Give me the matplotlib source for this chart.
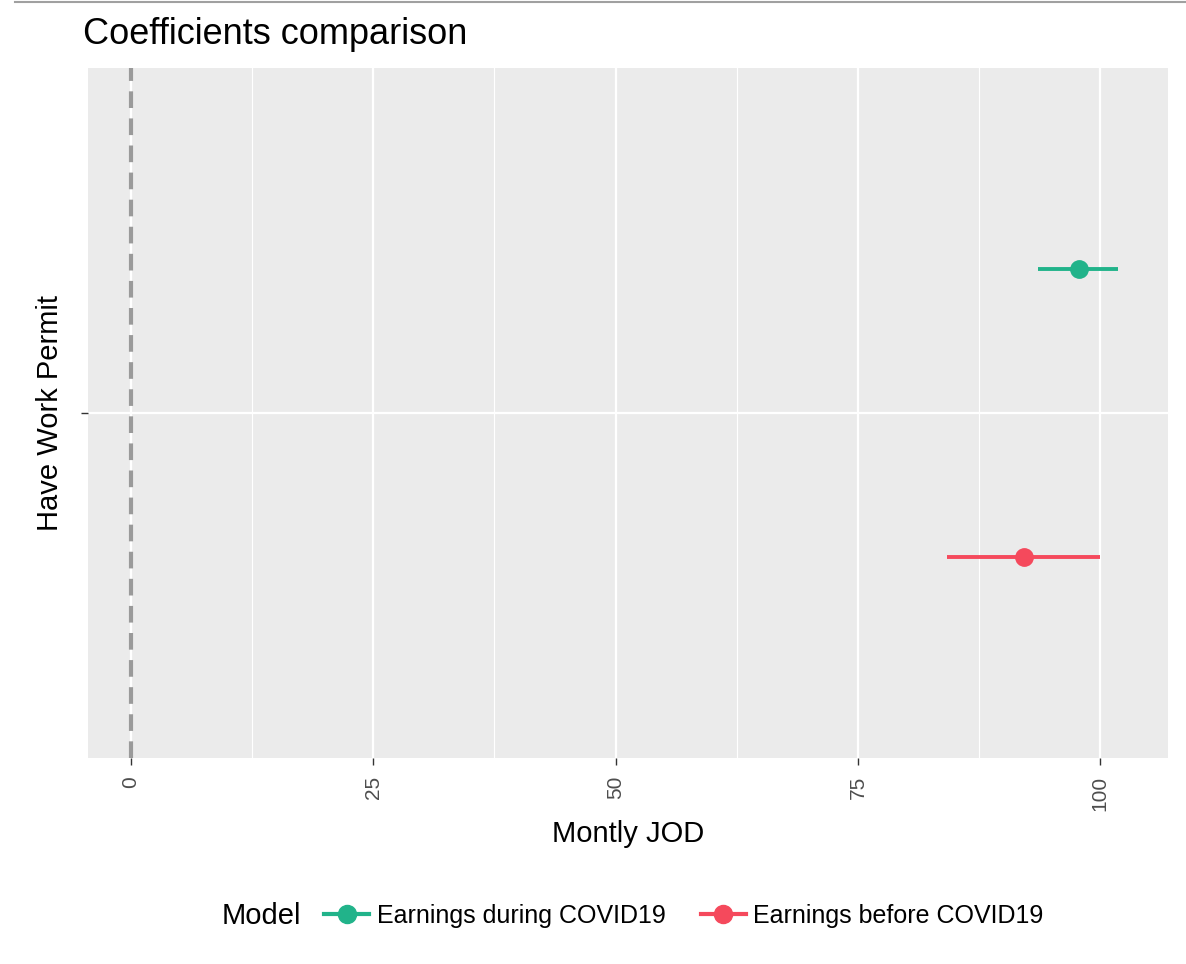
import matplotlib.pyplot as plt
from matplotlib.lines import Line2D

plt.rcParams['font.family'] = ['Liberation Sans', 'DejaVu Sans']

# coefficient estimates
models = ["Earnings during COVID19", "Earnings before COVID19"]
estimates = [97.8, 92.1]
lower = [93.6, 84.2]
upper = [101.8, 100.0]
colors = ["#21B38A", "#F5495C"]
term = "Have Work Permit"
x_ticks = [0, 25, 50, 75, 100]
dodge = [0.25, -0.25]

fig = plt.figure(figsize=(11.86, 9.64), dpi=100)
W, H = 1186, 964
ax = fig.add_axes([88 / W, 1 - 758 / H, (1168 - 88) / W, (758 - 68) / H])
ax.set_facecolor("#EBEBEB")
for s in ax.spines.values():
    s.set_visible(False)

# grid
for x in x_ticks:
    ax.axvline(x, color="white", lw=1.6, zorder=0)
for x in [12.5, 37.5, 62.5, 87.5]:
    ax.axvline(x, color="white", lw=0.8, zorder=0)
ax.axhline(1, color="white", lw=1.6, zorder=0)

# reference line at zero
ax.axvline(0, color="#9A9A9A", lw=3, ls=(0, (4, 2.5)), zorder=1)

# point ranges
for i, m in enumerate(models):
    y = 1 + dodge[i]
    ax.plot([lower[i], upper[i]], [y, y], color=colors[i], lw=2.8, zorder=2,
            solid_capstyle="butt")
    ax.plot(estimates[i], y, "o", color=colors[i], ms=12.5, zorder=3)

ax.set_xlim(-4.44, 107.0)
ax.set_ylim(0.4, 1.6)
ax.set_xticks(x_ticks)
ax.set_xticklabels([str(v) for v in x_ticks], rotation=90, fontsize=15, color="#4D4D4D")
ax.set_yticks([1])
ax.set_yticklabels([term], rotation=90, va="center", fontsize=21, color="black")
ax.tick_params(axis="both", length=5, width=1, color="#333333", pad=8)
ax.tick_params(axis="y", pad=12)
ax.set_xlabel("Montly JOD", fontsize=21, labelpad=6)

fig.text(83 / W, 1 - 34 / H, "Coefficients comparison", fontsize=26, va="center", ha="left")

# thin rule at the very top
fig.add_artist(Line2D([15 / W, 1], [0.998, 0.998], color="#A0A0A0", lw=1.5))

# legend
fig.text(222 / W, 1 - 916 / H, "Model", fontsize=21, va="center", ha="left")
handles = [Line2D([0], [0], color=c, lw=3, marker="o", ms=13) for c in colors]
fig.legend(handles, models, loc="center left", bbox_to_anchor=(302 / W, 1 - 916 / H),
           ncol=2, frameon=False, fontsize=18, handlelength=1.8, handletextpad=0.3,
           columnspacing=1.4)

fig.savefig("out.png", dpi=100)
